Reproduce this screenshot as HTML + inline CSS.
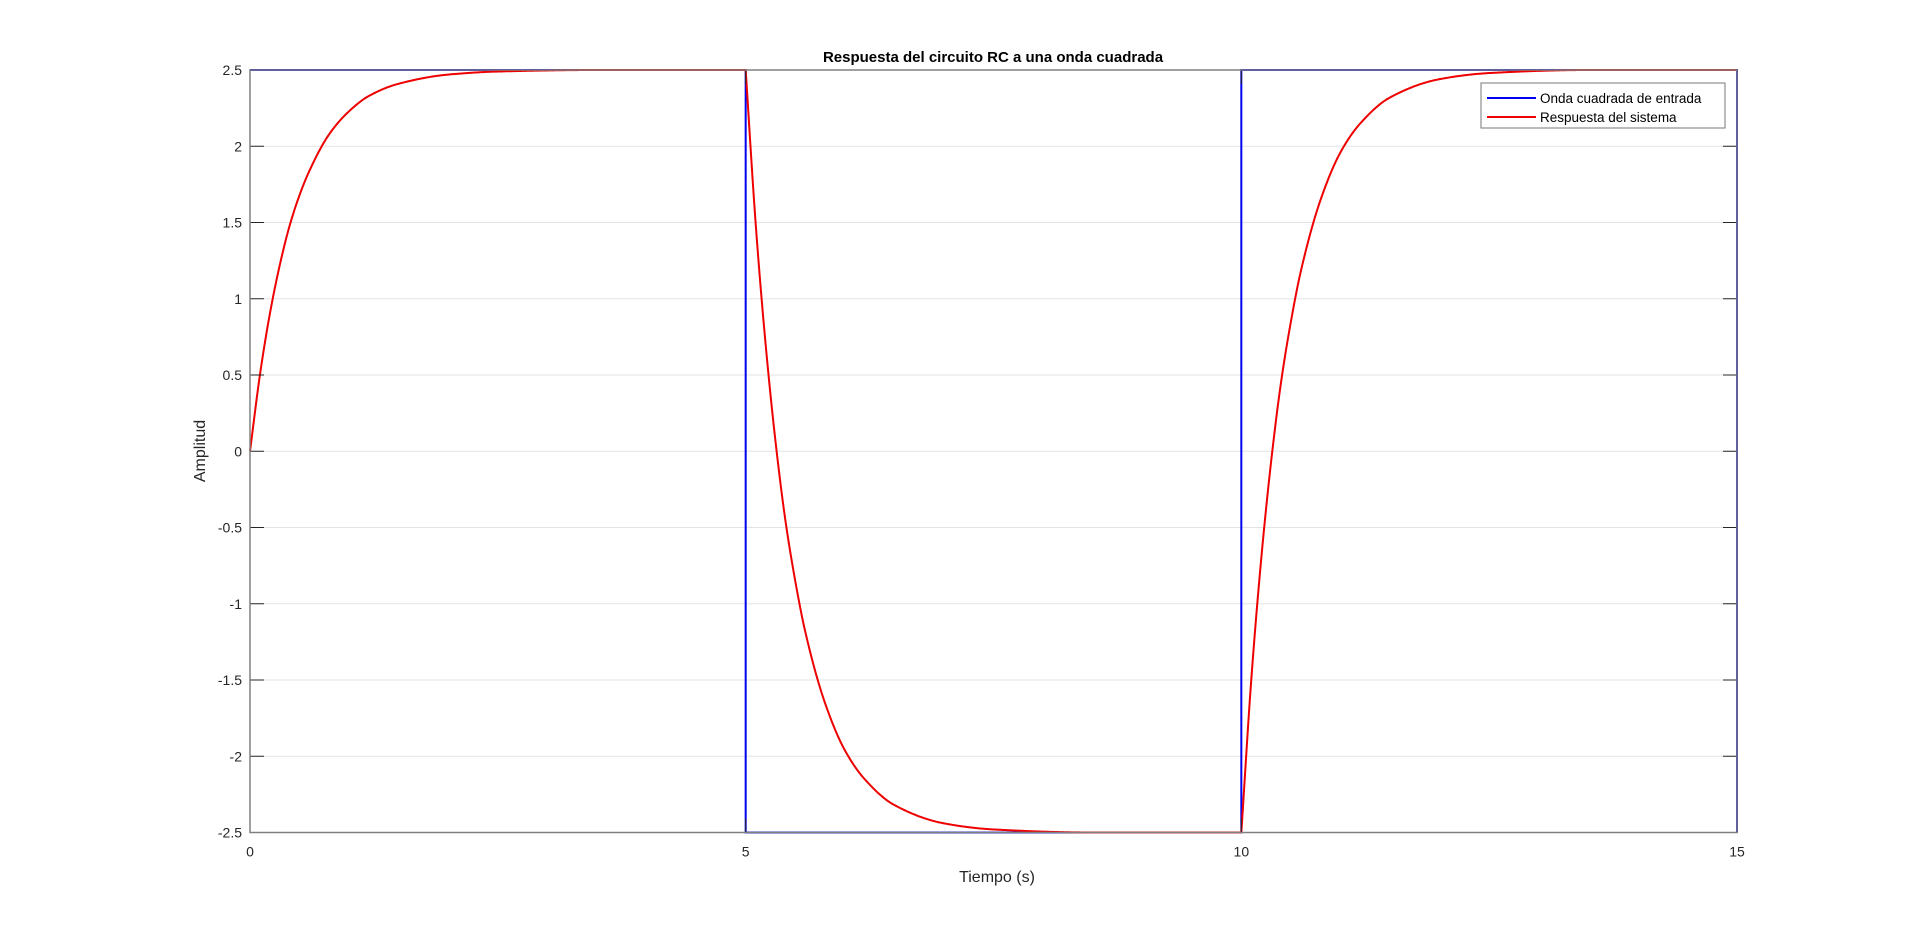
<!DOCTYPE html>
<html><head><meta charset="utf-8"><style>
html,body{margin:0;padding:0;background:#fff;}
svg{display:block;font-family:"Liberation Sans",Arial,sans-serif;}
</style></head><body>
<svg id="chart" width="1920" height="936" viewBox="0 0 1920 936" xmlns="http://www.w3.org/2000/svg">
<rect x="0" y="0" width="1920" height="936" fill="#fff"/>
<g id="grid"></g>
<g id="series"></g>
<g id="axes"></g>
<text x="993" y="62" text-anchor="middle" font-size="15" font-weight="bold" fill="#000">Respuesta del circuito RC a una onda cuadrada</text>
<text x="997" y="882" text-anchor="middle" font-size="16" fill="#262626">Tiempo (s)</text>
<text transform="translate(205,451) rotate(-90)" text-anchor="middle" font-size="16" fill="#262626">Amplitud</text>
<g>
<rect x="1481" y="83" width="244" height="45" fill="#fff" stroke="#777" stroke-width="1"/>
<line x1="1487" y1="98" x2="1536" y2="98" stroke="#0000ee" stroke-width="2"/>
<text x="1540" y="103" font-size="13.5" fill="#000">Onda cuadrada de entrada</text>
<line x1="1487" y1="117" x2="1536" y2="117" stroke="#ee0000" stroke-width="2"/>
<text x="1540" y="122" font-size="13.5" fill="#000">Respuesta del sistema</text>
</g>
</svg>
<script>
const xTicks=[0,5,10,15];
const yTicks=[-2.5,-2,-1.5,-1,-0.5,0,0.5,1,1.5,2,2.5];
const xTickLabels=["0","5","10","15"];
const yTickLabels=["-2.5","-2","-1.5","-1","-0.5","0","0.5","1","1.5","2","2.5"];
const inputT=[0,5,5,10,10,15,15];
const inputV=[2.5,2.5,-2.5,-2.5,2.5,2.5,-2.5];
const respT=[0,0.1,0.2,0.3,0.4,0.5,0.6,0.8,1.0,1.2,1.5,2.0,2.5,3.5,
  5.0,5.1,5.2,5.3,5.4,5.5,5.6,5.8,6.0,6.2,6.5,7.0,7.5,8.5,
  10.0,10.1,10.2,10.3,10.4,10.5,10.6,10.8,11.0,11.2,11.5,12.0,12.5,13.5,15];
const respV=[0,0.50,0.90,1.22,1.48,1.68,1.84,2.08,2.23,2.33,2.41,2.47,2.49,2.5,
  2.5,1.50,0.71,0.07,-0.45,-0.85,-1.18,-1.65,-1.96,-2.15,-2.32,-2.44,-2.48,-2.5,
  -2.5,-1.50,-0.71,-0.07,0.45,0.85,1.18,1.65,1.96,2.15,2.32,2.44,2.48,2.5,2.5];

const L=250,R=1737,T=70,B=832.5;
const xMin=0,xMax=15,yMin=-2.5,yMax=2.5;
function xs(v){return L+(v-xMin)/(xMax-xMin)*(R-L);}
function ys(v){return B-(v-yMin)/(yMax-yMin)*(B-T);}
const NS="http://www.w3.org/2000/svg";
function mk(tag,attrs,parent){const e=document.createElementNS(NS,tag);for(const k in attrs)e.setAttribute(k,attrs[k]);parent.appendChild(e);return e;}
const grid=document.getElementById('grid'),axes=document.getElementById('axes'),series=document.getElementById('series');
yTicks.forEach((v,i)=>{
  const y=ys(v);
  if(v>yMin&&v<yMax){const g=mk('line',{x1:L,x2:R,y1:y,y2:y,stroke:'#e3e3e3','stroke-width':1},grid);
  
  }
  const t1=mk('line',{x1:L,x2:L+14,y1:y,y2:y,stroke:'#262626','stroke-width':1},axes);
  
  
  const t2=mk('line',{x1:R-14,x2:R,y1:y,y2:y,stroke:'#262626','stroke-width':1},axes);
  
  
  const lb=mk('text',{x:L-8,y:y+5,'text-anchor':'end','font-size':14,fill:'#262626'},axes);
  lb.textContent=yTickLabels[i];
  
  
});
xTicks.forEach((v,i)=>{
  const x=xs(v);
  const t1=mk('line',{x1:x,x2:x,y1:B,y2:B-14,stroke:'#262626','stroke-width':1},axes);
  
  
  const t2=mk('line',{x1:x,x2:x,y1:T,y2:T+14,stroke:'#262626','stroke-width':1},axes);
  
  
  const lb=mk('text',{x:x,y:B+24,'text-anchor':'middle','font-size':14,fill:'#262626'},axes);
  lb.textContent=xTickLabels[i];
  
  
});
const box=mk('rect',{x:L,y:T,width:R-L,height:B-T,fill:'none',stroke:'#808080','stroke-width':1.5},axes);


function pathFrom(ts,vs){
  const pts=[];
  for(let i=0;i<ts.length;i++)pts.push((i?'L':'M')+xs(ts[i]).toFixed(2)+','+ys(vs[i]).toFixed(2));
  return pts.join(' ');
}
const pIn=mk('path',{d:pathFrom(inputT,inputV),fill:'none',stroke:'#0000ee','stroke-width':2},series);


// monotone cubic interpolation; sharp corners kept where a flat run ends
function monotonePath(ts,vs){
  const n=ts.length,d=[],m=new Array(n).fill(0);
  for(let i=0;i<n-1;i++)d.push((vs[i+1]-vs[i])/(ts[i+1]-ts[i]));
  m[0]=d[0];m[n-1]=d[n-2];
  for(let i=1;i<n-1;i++){
    if(d[i-1]===0&&d[i]!==0){m[i]=d[i];continue;}
    if(d[i-1]*d[i]<=0){m[i]=0;continue;}
    const w1=2*(ts[i+1]-ts[i])+(ts[i]-ts[i-1]),w2=(ts[i+1]-ts[i])+2*(ts[i]-ts[i-1]);
    m[i]=(w1+w2)/(w1/d[i-1]+w2/d[i]);
  }
  const pts=[];
  for(let i=0;i<n-1;i++){
    const h=ts[i+1]-ts[i],steps=Math.max(6,Math.ceil(h*60));
    for(let s=0;s<=steps;s++){
      if(i>0&&s===0)continue;
      const u=s/steps,h00=2*u*u*u-3*u*u+1,h10=u*u*u-2*u*u+u,h01=-2*u*u*u+3*u*u,h11=u*u*u-u*u;
      const v=h00*vs[i]+h10*h*m[i]+h01*vs[i+1]+h11*h*m[i+1];
      pts.push(xs(ts[i]+u*h).toFixed(2)+','+ys(Math.max(yMin,Math.min(yMax,v))).toFixed(2));
    }
  }
  return 'M'+pts.join(' L');
}
const pR=mk('path',{d:monotonePath(respT,respV),fill:'none',stroke:'#ee0000','stroke-width':2,'stroke-linejoin':'round'},series);


</script>
</body></html>
